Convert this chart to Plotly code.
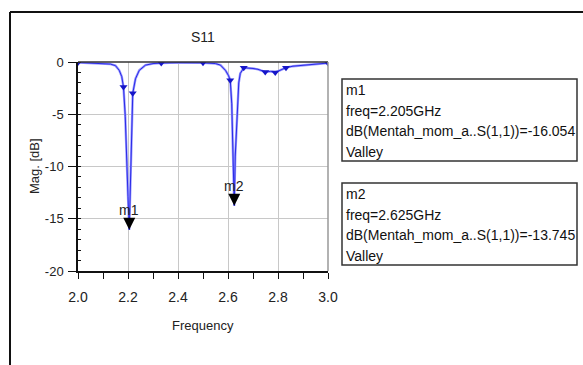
import plotly.graph_objects as go

# ---- data ----
freq_ghz = [2.0, 2.05, 2.10, 2.13, 2.15, 2.165, 2.175, 2.182, 2.189, 2.194, 2.200, 2.205,
            2.208, 2.212, 2.216, 2.219, 2.23, 2.245, 2.27, 2.30, 2.333, 2.40, 2.50,
            2.55, 2.57, 2.59, 2.602, 2.609, 2.615, 2.619, 2.622, 2.625, 2.629, 2.635,
            2.643, 2.649, 2.663, 2.70, 2.72, 2.749, 2.77, 2.789, 2.81, 2.832, 2.86,
            2.94, 3.0]
s11_db = [-0.05, -0.08, -0.12, -0.2, -0.35, -0.8, -1.4, -2.4, -5.2, -10.0, -12.9, -16.054,
          -12.9, -10.0, -5.2, -3.0, -1.6, -0.8, -0.3, -0.15, -0.1, -0.06, -0.08,
          -0.15, -0.3, -0.8, -1.3, -1.75, -4.0, -8.0, -11.0, -13.745, -9.0, -5.2,
          -2.0, -1.1, -0.55, -0.62, -0.7, -0.95, -0.9, -1.0, -0.75, -0.54, -0.4,
          -0.2, -0.1]

# sampled points shown with symbols
sample_freq = [2.0, 2.182, 2.219, 2.333, 2.5, 2.609, 2.663, 2.749, 2.789, 2.832, 3.0]
sample_db = [-0.05, -2.4, -3.0, -0.1, -0.08, -1.75, -0.55, -0.95, -1.0, -0.54, -0.1]

marker_names = ["m1", "m2"]
marker_freq = [2.205, 2.625]
marker_db = [-16.054, -13.745]
marker_kind = ["Valley", "Valley"]
trace_name = "Mentah_mom_a..S(1,1)"

x_ticks = [2.0, 2.2, 2.4, 2.6, 2.8, 3.0]
y_ticks = [0, -5, -10, -15, -20]

FONT = "Liberation Sans, Arial, sans-serif"

W, H = 583, 365
L, R, T, B = 78, 328, 62, 271  # plot area in px


def px(xp):
    return (xp - L) / (R - L)


def py(yp):
    return (B - yp) / (B - T)


fig = go.Figure()
fig.add_trace(go.Scatter(x=freq_ghz, y=s11_db, mode="lines",
                         line=dict(color="#9a9aff", width=2.4), hoverinfo="skip",
                         showlegend=False))
fig.add_trace(go.Scatter(x=freq_ghz, y=s11_db, mode="lines",
                         line=dict(color="#2a2ae8", width=1.0), showlegend=False))
fig.add_trace(go.Scatter(x=sample_freq, y=sample_db, mode="markers",
                         marker=dict(symbol="triangle-down", size=7, color="#1515c8",
                                     line=dict(width=0)), showlegend=False))

annotations = []
for n, f, d in zip(marker_names, marker_freq, marker_db):
    annotations.append(dict(x=f, y=d, xref="x", yref="y", text=n, showarrow=True,
                            arrowhead=2, arrowsize=1.6, arrowwidth=1.5, arrowcolor="black",
                            ax=0, ay=-20, standoff=0,
                            font=dict(family=FONT, size=14, color="#222")))

# marker readout boxes
box_tops = [79, 183]
shapes = []
for i, (n, f, d, k) in enumerate(zip(marker_names, marker_freq, marker_db, marker_kind)):
    top = box_tops[i]
    shapes.append(dict(type="rect", xref="paper", yref="paper",
                       x0=px(342), x1=px(577), y0=py(top), y1=py(top + 82),
                       line=dict(color="#333", width=1.5), fillcolor="white"))
    lines = [n, "freq=%.3fGHz" % f, "dB(%s)=%.3f" % (trace_name, d), k]
    for j, t in enumerate(lines):
        annotations.append(dict(x=px(344), y=py(top + 11 + 20.5 * j), xref="paper", yref="paper",
                                text=t, showarrow=False, xanchor="left", yanchor="middle",
                                font=dict(family=FONT, size=14, color="#111")))

# axis titles
annotations.append(dict(x=0.5, y=py(325), xref="paper", yref="paper", text="Frequency",
                        showarrow=False, xanchor="center", yanchor="middle",
                        font=dict(family=FONT, size=13, color="#222")))
annotations.append(dict(x=px(34), y=py(166), xref="paper", yref="paper", text="Mag. [dB]",
                        textangle=-90, showarrow=False, xanchor="center", yanchor="middle",
                        font=dict(family=FONT, size=13, color="#222")))
annotations.append(dict(x=0.5, y=py(37), xref="paper", yref="paper", text="S11",
                        showarrow=False, xanchor="center", yanchor="middle",
                        font=dict(family=FONT, size=14, color="#222")))

# plot frame top / right
shapes.append(dict(type="line", xref="paper", yref="paper", x0=0, x1=1, y0=1, y1=1,
                   line=dict(color="#333", width=1.5)))
shapes.append(dict(type="line", xref="paper", yref="paper", x0=1, x1=1, y0=0, y1=1,
                   line=dict(color="#999", width=1.5)))
# outer window frame
shapes.append(dict(type="line", xref="paper", yref="paper", x0=px(10), x1=px(10),
                   y0=py(12), y1=py(370), line=dict(color="#111", width=2)))
shapes.append(dict(type="line", xref="paper", yref="paper", x0=px(10), x1=px(590),
                   y0=py(12), y1=py(12), line=dict(color="#111", width=2)))

fig.update_layout(
    width=W, height=H,
    margin=dict(l=L, r=W - R, t=T, b=H - B),
    paper_bgcolor="white", plot_bgcolor="white",
    annotations=annotations, shapes=shapes,
    xaxis=dict(range=[2.0, 3.0], tickvals=x_ticks, ticktext=["%.1f" % v for v in x_ticks],
               showgrid=True, gridcolor="#c8c8c8", gridwidth=1, zeroline=False,
               showline=True, linecolor="#111", linewidth=1.5,
               ticks="outside", ticklen=6, tickcolor="#111", tickwidth=1.2,
               minor=dict(dtick=0.1, tick0=2.0, ticks="outside", ticklen=6,
                          tickcolor="#111", showgrid=False),
               tickfont=dict(family=FONT, size=14, color="#222"),
               ticklabelstandoff=6),
    yaxis=dict(range=[-20, 0], tickvals=y_ticks, ticktext=[str(v) for v in y_ticks],
               showgrid=True, gridcolor="#c8c8c8", gridwidth=1, zeroline=False,
               showline=True, linecolor="#111", linewidth=1.5,
               ticks="outside", ticklen=8, tickcolor="#111", tickwidth=1.2,
               minor=dict(dtick=1, tick0=0, ticks="inside", ticklen=3,
                          tickcolor="#111", showgrid=False),
               tickfont=dict(family=FONT, size=13, color="#222"),
               ticklabelstandoff=2),
)

fig.write_html("out.html")
